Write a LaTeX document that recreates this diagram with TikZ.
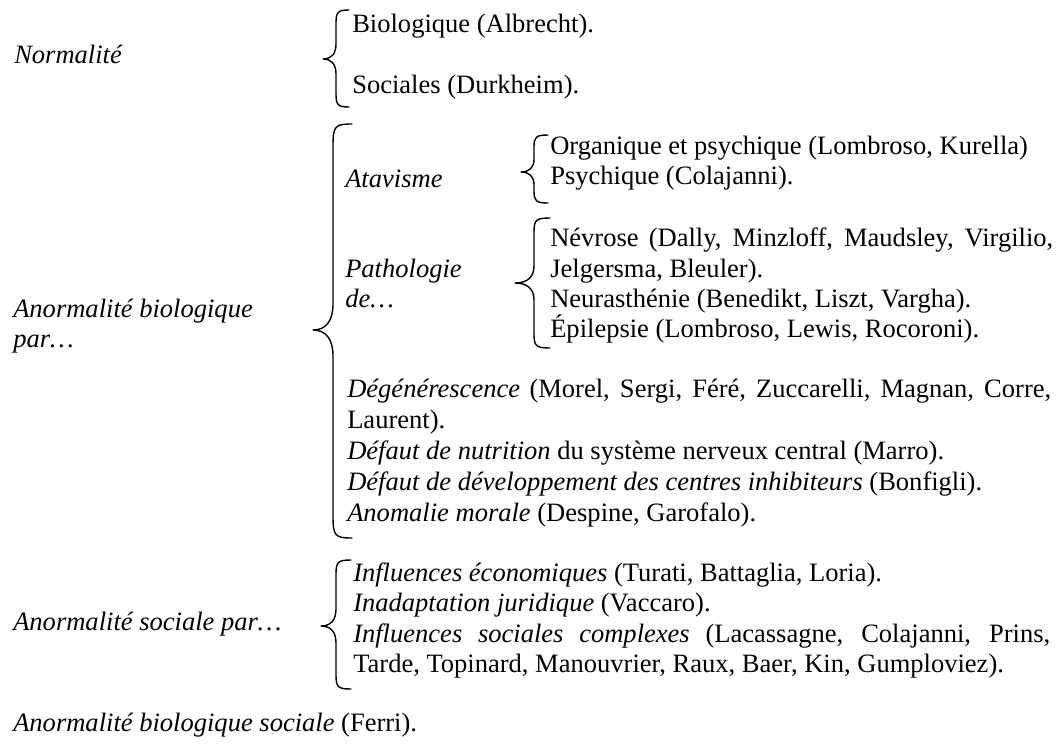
\documentclass[tikz,border=0pt]{standalone}
\usepackage{fontspec}
\setmainfont{Liberation Serif}
\newcommand{\bodyfont}{\fontsize{19.9}{23}\selectfont}
\tikzset{
  txt/.style={anchor=base west, inner sep=0pt, font=\bodyfont},
  ital/.style={anchor=base west, inner sep=0pt, font=\bodyfont\itshape},
  bracestyle/.style={line width=1.05pt, line join=round, line cap=round}
}
% #1 end x, #2 vertical x, #3 tip x, #4 top y, #5 tip y, #6 bottom y, #7 end curl, #8 tip curl
\newcommand{\lbr}[8]{%
  \draw[bracestyle] (#1,#4) .. controls (#2+2,#4) and (#2,#4+2) .. (#2,#4+#7)
    -- (#2,#5-#8) .. controls (#2,#5-0.35*#8) and (#2-0.35*#2+0.35*#3,#5) .. (#3,#5)
    .. controls (#2-0.35*#2+0.35*#3,#5) and (#2,#5+0.35*#8) .. (#2,#5+#8)
    -- (#2,#6-#7) .. controls (#2,#6-2) and (#2+2,#6) .. (#1,#6);}
\begin{document}
\begin{tikzpicture}[x=0.75pt,y=-0.75pt]
\useasboundingbox (0,0) rectangle (1064,743);
\fill[white] (0,0) rectangle (1064,743);

% Normalite
\node[ital] (norm) at (14,63) {Normalité};
\lbr{349}{336}{323}{10}{59}{107}{13}{15}
\node[txt] (bio) at (352,32) {Biologique (Albrecht).};
\node[txt] (soc) at (352,93) {Sociales (Durkheim).};

% Anormalite biologique
\node[ital] (anb1) at (13,317) {Anormalité biologique};
\node[ital] (anb2) at (13,347) {par…};
\lbr{352}{333}{313}{124}{330}{538}{22}{26}

\node[ital] (atav) at (345,187) {Atavisme};
\lbr{548}{534}{521}{135}{172}{203}{12}{13}
\node[txt] (org) at (550,154) {Organique et psychique (Lombroso, Kurella)};
\node[txt] (psy) at (550,184) {Psychique (Colajanni).};

\node[ital] (path1) at (345,277) {Pathologie};
\node[ital] (path2) at (345,307) {de…};
\lbr{550}{534}{515}{218}{283}{348}{14}{17}
\node[txt] (nev1) at (550,246) {\makebox[377.25pt][s]{Névrose (Dally, Minzloff, Maudsley, Virgilio,}};
\node[txt] (nev2) at (550,277) {Jelgersma, Bleuler).};
\node[txt] (neu) at (550,307) {Neurasthénie (Benedikt, Liszt, Vargha).};
\node[txt] (epi) at (550,337) {Épilepsie (Lombroso, Lewis, Rocoroni).};

\node[txt] (deg1) at (347,397) {\makebox[528pt][s]{\textit{Dégénérescence} (Morel, Sergi, Féré, Zuccarelli, Magnan, Corre,}};
\node[txt] (deg2) at (347,428) {Laurent).};
\node[txt] (nut) at (347,459) {\textit{Défaut de nutrition} du système nerveux central (Marro).};
\node[txt] (dev) at (347,490) {\textit{Défaut de développement des centres inhibiteurs} (Bonfigli).};
\node[txt] (mor) at (347,521) {\textit{Anomalie morale} (Despine, Garofalo).};

% Anormalite sociale
\node[ital] (ans) at (13,630) {Anormalité sociale par…};
\lbr{351}{336}{321}{560}{626}{689}{14}{17}
\node[txt] (eco) at (353,581) {\textit{Influences économiques} (Turati, Battaglia, Loria).};
\node[txt] (jur) at (353,611) {\textit{Inadaptation juridique} (Vaccaro).};
\node[txt] (cx1) at (353,642) {\makebox[522.75pt][s]{\textit{Influences sociales complexes} (Lacassagne, Colajanni, Prins,}};
\node[txt] (cx2) at (353,672) {Tarde, Topinard, Manouvrier, Raux, Baer, Kin, Gumploviez).};

\node[txt] (fer) at (13,731) {\textit{Anormalité biologique sociale} (Ferri).};
\end{tikzpicture}
\end{document}
